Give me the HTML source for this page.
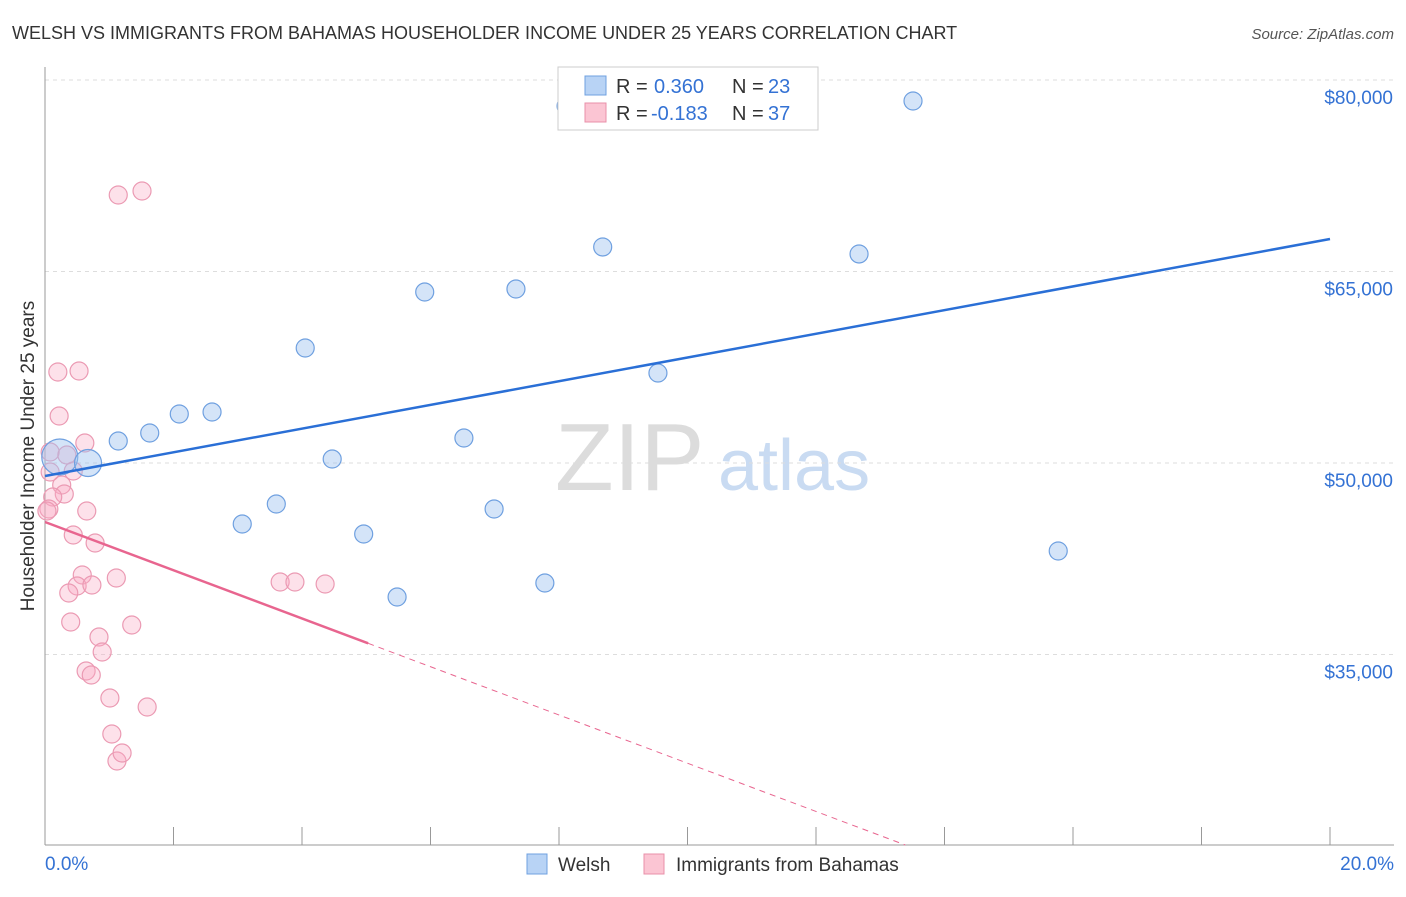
<!DOCTYPE html>
<html><head><meta charset="utf-8"><style>
body{margin:0;background:#fff;font-family:"Liberation Sans",sans-serif;}
svg text{font-family:"Liberation Sans",sans-serif;}
</style></head><body>
<svg id="chart" width="1406" height="892" viewBox="0 0 1406 892" xmlns="http://www.w3.org/2000/svg">
<text x="12" y="39" font-size="18" fill="#333">WELSH VS IMMIGRANTS FROM BAHAMAS HOUSEHOLDER INCOME UNDER 25 YEARS CORRELATION CHART</text>
<text x="1394" y="39" font-size="15" fill="#555" font-style="italic" text-anchor="end">Source: ZipAtlas.com</text>
<g>
<text x="555" y="490" font-size="96" fill="#dcdcdc" font-family="Liberation Serif, serif">ZIP</text>
<text x="718" y="490" font-size="72" fill="#c9dbf2">atlas</text>
</g>
<g id="grid"></g>
<g id="axes"></g>
<g id="marks"></g>
<g>
<rect x="558" y="67" width="260" height="63" fill="#fff" stroke="#ccc"/>
<rect x="585" y="76" width="21" height="19" fill="#b8d3f5" stroke="#6fa0e0"/>
<text x="616" y="93" font-size="20" fill="#333">R = </text><text x="654" y="93" font-size="20" fill="#3472d4">0.360</text>
<text x="732" y="93" font-size="20" fill="#333">N = </text><text x="768" y="93" font-size="20" fill="#3472d4">23</text>
<rect x="585" y="103" width="21" height="19" fill="#fbc5d3" stroke="#e890aa"/>
<text x="616" y="120" font-size="20" fill="#333">R = </text><text x="651" y="120" font-size="20" fill="#3472d4">-0.183</text>
<text x="732" y="120" font-size="20" fill="#333">N = </text><text x="768" y="120" font-size="20" fill="#3472d4">37</text>
</g>
<g>
<rect x="527" y="854" width="20" height="20" fill="#b8d3f5" stroke="#6fa0e0"/>
<text x="558" y="871" font-size="19" fill="#333">Welsh</text>
<rect x="644" y="854" width="20" height="20" fill="#fbc5d3" stroke="#e890aa"/>
<text x="676" y="871" font-size="19" fill="#333">Immigrants from Bahamas</text>
</g>
<text transform="translate(34,456) rotate(-90)" font-size="19" fill="#333" text-anchor="middle">Householder Income Under 25 years</text>
<text x="45" y="870" font-size="19" fill="#3472d4">0.0%</text>
<text x="1394" y="870" font-size="19" fill="#3472d4" text-anchor="end">20.0%</text>
</svg>
<script>
const yTicks=[80000,65000,50000,35000];
const yTickLabels=["$80,000","$65,000","$50,000","$35,000"];
const xTicks=[0,2,4,6,8,10,12,14,16,18,20];
const welshX=[8.11,13.51,8.68,12.67,5.91,7.33,4.05,9.54,2.60,2.09,1.63,1.14,6.52,0.23,0.67,4.47,3.60,3.07,6.99,4.96,7.78,5.48,15.77];
const welshY=[77963,78355,66919,66371,63394,63629,59008,57049,53994,53838,52350,51723,51958,50470,50000,50313,46788,45221,46396,44438,40600,39503,43107];
const welshSize=[1,1,1,1,1,1,1,1,1,1,1,1,1,2,1.5,1,1,1,1,1,1,1,1];
const bahX=[1.14,1.51,0.20,0.53,0.22,0.62,0.08,0.34,0.44,0.26,0.30,0.12,0.06,0.03,0.65,0.44,0.78,0.58,0.50,0.73,0.37,1.11,0.40,1.35,0.84,0.89,0.64,0.72,1.01,1.59,3.66,3.89,4.36,1.04,1.12,1.20,0.08];
const bahY=[70992,71305,57128,57206,53681,51566,50861,50626,49373,48276,47571,47336,46396,46240,46240,44360,43733,41227,40365,40443,39817,40992,37545,37310,36370,35195,33707,33394,31592,30887,40678,40678,40522,28772,26657,27284,49295];
const welshTrend=[48981,67545];
const welshTrendX=[0,20];
const bahTrend=[45378,20080];
const bahTrendX=[0,13.39];
const bahSolidEnd=5.03;

const X=p=>45+p/20*1285;
const Y=v=>80+(80000-v)/15000*191.5;
const NS="http://www.w3.org/2000/svg";
function mk(t,a,parent){const e=document.createElementNS(NS,t);for(const k in a)e.setAttribute(k,a[k]);parent.appendChild(e);return e;}
const grid=document.getElementById('grid'),axes=document.getElementById('axes'),marks=document.getElementById('marks');
yTicks.forEach((v,i)=>{
  const l=mk('line',{x1:45,x2:1394,y1:Y(v),y2:Y(v),stroke:'#ddd','stroke-dasharray':'4 4'},grid);
  
  
  const t=mk('text',{x:1393,y:Y(v)+24,'font-size':19,fill:'#3472d4','text-anchor':'end'},grid);
  t.textContent=yTickLabels[i];
  
  
});
const ya=mk('line',{x1:45,x2:45,y1:67,y2:845,stroke:'#999'},axes);


const xa=mk('line',{x1:45,x2:1394,y1:845,y2:845,stroke:'#999'},axes);


xTicks.forEach(p=>{
  const t=mk('line',{x1:X(p),x2:X(p),y1:827,y2:845,stroke:'#999'},axes);
  
  
});
bahX.forEach((p,i)=>{
  const c=mk('circle',{cx:X(p),cy:Y(bahY[i]),r:9,fill:'rgba(248,170,195,0.35)',stroke:'#eb9ab3','stroke-width':1.2},marks);
  
  
});
welshX.forEach((p,i)=>{
  const c=mk('circle',{cx:X(p),cy:Y(welshY[i]),r:9*welshSize[i],fill:'rgba(160,195,240,0.45)',stroke:'#6fa0e0','stroke-width':1.2},marks);
  
  
});
const wl=mk('line',{x1:X(welshTrendX[0]),y1:Y(welshTrend[0]),x2:X(welshTrendX[1]),y2:Y(welshTrend[1]),stroke:'#2a6fd6','stroke-width':2.5},marks);


const slope=(bahTrend[1]-bahTrend[0])/(bahTrendX[1]-bahTrendX[0]);
const midV=bahTrend[0]+slope*(bahSolidEnd-bahTrendX[0]);
const bl=mk('line',{x1:X(bahTrendX[0]),y1:Y(bahTrend[0]),x2:X(bahSolidEnd),y2:Y(midV),stroke:'#e8658f','stroke-width':2.5},marks);


const bd=mk('line',{x1:X(bahSolidEnd),y1:Y(midV),x2:X(bahTrendX[1]),y2:Y(bahTrend[1]),stroke:'#e8658f','stroke-width':1,'stroke-dasharray':'6 5'},marks);


</script>
</body></html>
